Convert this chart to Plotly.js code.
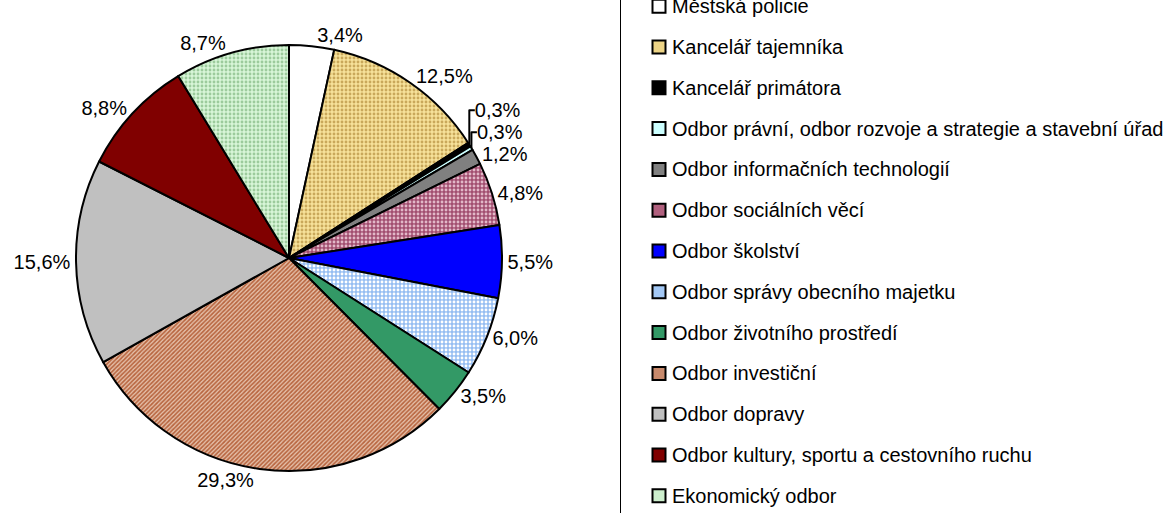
<!DOCTYPE html>
<html>
<head>
<meta charset="utf-8">
<script src="https://cdn.plot.ly/plotly-3.0.1.min.js"></script>
<style>html,body{margin:0;padding:0;background:#fff}#chart{width:1172px;height:513px}</style>
</head>
<body>
<div id="chart"></div>
<script>
// ---- data ----
const categories = [
  "Městská policie",
  "Kancelář tajemníka",
  "Kancelář primátora",
  "Odbor právní, odbor rozvoje a strategie a stavební úřad",
  "Odbor informačních technologií",
  "Odbor sociálních věcí",
  "Odbor školství",
  "Odbor správy obecního majetku",
  "Odbor životního prostředí",
  "Odbor investiční",
  "Odbor dopravy",
  "Odbor kultury, sportu a cestovního ruchu",
  "Ekonomický odbor"
];
const shares = [3.4, 12.5, 0.3, 0.3, 1.2, 4.8, 5.5, 6.0, 3.5, 29.3, 15.6, 8.8, 8.7];

// ---- styles ----
const baseColors = ["#FFFFFF","#EDD486","#000000","#CCFFFF","#808080","#B0607E","#0000FF","#A3C8F5","#339966","#C88A6C","#C0C0C0","#800000","#CDEFCD"];
const patShapes  = ["","." ,"","","",".","","." ,"","/","","","."];
const patFg      = ["#FFFFFF","#C9A85A","#000000","#CCFFFF","#808080","#E2B8C8","#0000FF","#FFFFFF","#339966","#B8653F","#C0C0C0","#800000","#9CCB9C"];
const patBg      = ["#FFFFFF","#F7E29A","#000000","#CCFFFF","#808080","#A24E70","#0000FF","#96BEF2","#339966","#E6C2AC","#C0C0C0","#800000","#D8F6D8"];
const patSize    = [4, 4, 4, 4, 4, 4, 4, 4, 4, 3, 4, 4, 4];
const patSolid   = [0.4, 0.4, 0.4, 0.4, 0.4, 0.4, 0.4, 0.4, 0.4, 0.55, 0.4, 0.4, 0.4];

const W = 1172, H = 513;
const cx = 289, cy = 258, R = 213;
const font = "Liberation Sans, Arial, sans-serif";

const trace = {
  type: "pie",
  labels: categories,
  values: shares,
  sort: false,
  direction: "clockwise",
  rotation: 0,
  texttemplate: "%{value:.1f}%",
  textposition: "outside",
  textfont: {family: font, size: 20, color: "#000"},
  outsidetextfont: {family: font, size: 20, color: "#000"},
  hoverinfo: "label+percent",
  showlegend: false,
  automargin: false,
  marker: {
    colors: baseColors,
    line: {color: "#000000", width: 2},
    pattern: {shape: patShapes, fgcolor: patFg, bgcolor: patBg, size: patSize, solidity: patSolid, fillmode: "replace"}
  },
  domain: {x: [(cx - R) / W, (cx + R) / W], y: [1 - (cy + R) / H, 1 - (cy - R) / H]}
};

// ---- hand-drawn legend (layout) ----
const shapes = [{type: "line", xref: "paper", yref: "paper", x0: 620.5 / W, x1: 620.5 / W, y0: -0.01, y1: 1.01, line: {color: "#000", width: 1}}];
const annotations = [];
const rowTop = 6.2, rowStep = 40.8;
categories.forEach((name, i) => {
  const yc = rowTop + i * rowStep;
  shapes.push({type: "rect", xref: "paper", yref: "paper",
    x0: 652.5 / W, x1: 665.5 / W, y0: 1 - (yc + 6.5) / H, y1: 1 - (yc - 6.5) / H,
    fillcolor: baseColors[i], line: {color: "#000", width: 2}});
  annotations.push({xref: "paper", yref: "paper", x: 670 / W, y: 1 - yc / H,
    xanchor: "left", yanchor: "middle", showarrow: false, text: name,
    font: {family: font, size: 20, color: "#000"}});
});

const layout = {
  width: W, height: H,
  margin: {l: 0, r: 0, t: 0, b: 0},
  paper_bgcolor: "#FFFFFF",
  separators: ", ",
  showlegend: false,
  shapes: shapes,
  annotations: annotations
};

Plotly.newPlot("chart", [trace], layout, {displayModeBar: false, staticPlot: true});
</script>
</body>
</html>
